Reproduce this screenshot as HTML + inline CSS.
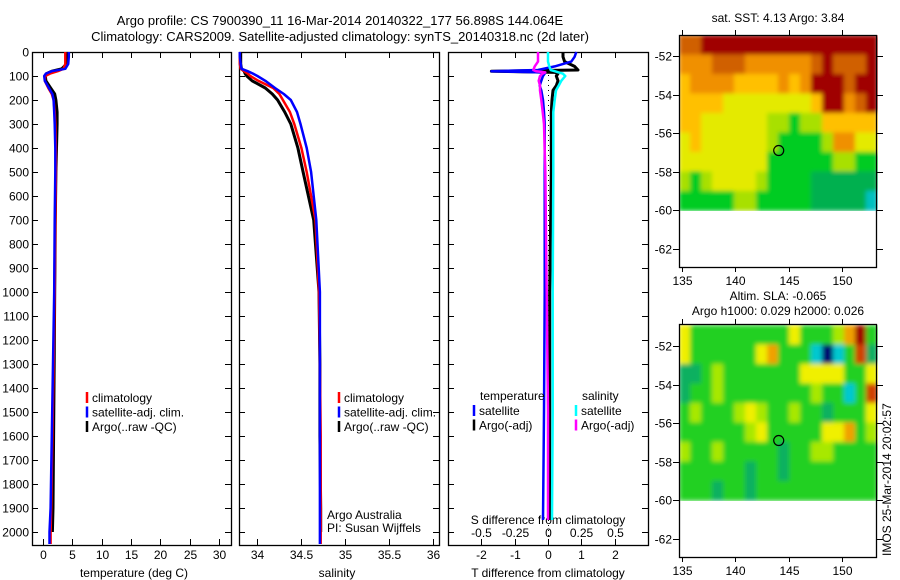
<!DOCTYPE html>
<html><head><meta charset="utf-8"><style>
html,body{margin:0;padding:0;background:#fff;}
svg{display:block;font-family:"Liberation Sans",sans-serif;}
text{font-size:12px;fill:#000;}
</style></head><body>
<svg id="c" width="900" height="580" xmlns="http://www.w3.org/2000/svg">
<defs>
<filter id="blurSla" x="0" y="0" width="1" height="1"><feGaussianBlur stdDeviation="2.5" edgeMode="duplicate"/></filter>
<filter id="blurSst" x="0" y="0" width="1" height="1"><feGaussianBlur stdDeviation="2" edgeMode="duplicate"/></filter>
</defs>
<text x="340" y="25" text-anchor="middle" style="font-size:13px">Argo profile: CS 7900390_11 16-Mar-2014 20140322_177 56.898S 144.064E</text>
<text x="340" y="41" text-anchor="middle" style="font-size:13px">Climatology: CARS2009. Satellite-adjusted climatology: synTS_20140318.nc (2d later)</text>
<text x="778" y="22" text-anchor="middle">sat. SST: 4.13 Argo: 3.84</text>
<text x="778" y="300" text-anchor="middle">Altim. SLA: -0.065</text>
<text x="778" y="315" text-anchor="middle">Argo h1000: 0.029 h2000: 0.026</text>
<text transform="translate(891,556) rotate(-90)">IMOS 25-Mar-2014 20:02:57</text>
</svg>
<script>
// ---- profile data ----
const depths = [0,20,50,70,80,90,100,120,150,175,200,250,300,400,500,700,1000,1300,1600,1900,2000,2050];
const tempArgo = [4.3,4.2,4.0,3.2,1.5,0.6,0.4,0.5,1.3,2.0,2.2,2.4,2.4,2.3,2.2,2.1,2.0,1.9,1.8,1.7,1.6,null];
const tempClim = [3.8,3.8,3.8,3.5,2.5,1.2,0.4,0.3,0.9,1.5,1.8,2.0,2.1,2.2,2.2,2.1,2.0,1.8,1.6,1.4,1.3,1.3];
const tempSat = [4.4,4.4,4.3,3.8,1.5,0.5,0.2,0.3,1.0,1.6,1.8,1.9,2.0,2.1,2.1,2.0,1.9,1.7,1.5,1.3,1.1,1.1];
const salArgo = [33.82,33.82,33.82,33.83,33.86,33.87,33.89,33.95,34.10,34.18,34.24,34.32,34.39,34.47,34.53,34.65,34.71,34.72,34.72,34.73,34.73,null];
const salClim = [33.81,33.81,33.81,33.82,33.86,33.90,33.93,34.02,34.19,34.26,34.30,34.38,34.43,34.51,34.57,34.67,34.71,34.72,34.73,34.73,34.73,34.73];
const salSat = [33.81,33.81,33.82,33.83,33.90,33.96,34.01,34.10,34.21,34.31,34.39,34.46,34.50,34.57,34.62,34.68,34.72,34.72,34.72,34.72,34.72,34.72];
const diffDepths = [0,20,40,60,75,80,85,90,100,120,140,160,200,250,300,500,1000,1500,1950];
const tDiffArgo = [0.45,0.45,0.5,0.8,0.9,-1.7,0.2,0.3,0.25,0.3,0.25,0.15,0.12,0.1,0.1,0.1,0.05,0.05,0.05];
const tDiffSat = [0.85,0.8,0.7,0.2,-0.3,-1.7,-0.2,-0.1,-0.15,-0.2,-0.25,-0.2,-0.15,-0.12,-0.1,-0.1,-0.1,-0.12,-0.15];
const sDiffSat = [0,0,0,0.01,0.02,0.05,0.08,0.11,0.13,0.10,0.08,0.06,0.05,0.04,0.04,0.04,0.035,0.035,0.03];
const sDiffArgo = [-0.075,-0.075,-0.075,-0.1,-0.11,-0.09,-0.02,-0.04,-0.06,-0.07,-0.06,-0.06,-0.05,-0.04,-0.03,-0.02,-0.01,0,0];
const depthTicks = [0,100,200,300,400,500,600,700,800,900,1000,1100,1200,1300,1400,1500,1600,1700,1800,1900,2000];
const tempTicks = [0,5,10,15,20,25,30];
const salTicks = [34,34.5,35,35.5,36];
const tdTicks = [-2,-1,0,1,2];
const sdTicks = [-0.5,-0.25,0,0.25,0.5];
// ---- map data (rows north->south, cols west->east), color class indices ----
const sstGrid = [
[8,8,9,9,9,9,9,9,9,9,9,9,9,9,9,9,9,9],
[7,7,7,8,8,8,7,7,7,7,7,7,8,9,8,8,8,9],
[6,7,7,7,7,6,6,6,6,7,6,7,9,9,9,8,9,9],
[6,6,6,6,5,5,5,5,5,5,5,5,6,9,9,7,8,9],
[6,6,5,5,5,5,5,5,4,4,3,4,4,6,6,6,6,6],
[5,6,5,5,5,5,5,5,4,3,3,3,3,4,7,7,5,5],
[5,5,5,5,5,5,5,5,3,3,3,3,3,3,4,4,3,3],
[4,3,4,5,5,5,5,4,3,3,3,3,2,2,2,2,2,2],
[3,3,3,3,3,4,4,3,3,3,3,3,2,2,2,2,2,1]];
const slaGrid = [
[6,4,4,4,4,4,4,4,4,4,6,4,4,4,5,7,9,4],
[6,4,4,4,4,4,4,6,7,4,4,4,2,0,2,4,8,3],
[3,3,4,5,4,4,4,4,4,4,4,6,6,6,6,4,4,6],
[3,4,4,5,4,4,4,4,4,4,4,4,5,4,4,2,4,8],
[4,5,4,4,4,5,6,5,4,4,5,4,4,3,4,4,4,6],
[4,4,4,4,4,4,5,6,4,4,4,4,4,6,6,7,4,5],
[5,4,4,5,4,4,4,4,4,3,4,4,5,5,4,4,4,4],
[4,4,4,4,4,4,3,4,4,3,4,4,4,4,4,4,4,4],
[4,4,4,3,4,4,3,4,4,4,4,4,4,4,4,4,4,4]];
const sstColors = ['#00c0c0','#00c0c0','#00b050','#00cc20','#a8e000','#e4ea00','#ffc000','#f09000','#d06000','#a00000'];
const slaColors = ['#000070','#0070d0','#00c8d0','#10b060','#20d020','#a8e800','#f0f000','#f0a000','#d04000','#a00000'];
const lonTicks = [135,140,145,150];
const latTicks = [-52,-54,-56,-58,-60,-62];
const argoLon = 144.064, argoLat = -56.898;

const svg = document.getElementById('c');
const NS = 'http://www.w3.org/2000/svg';
function mk(tag, at, parent){const e=document.createElementNS(NS,tag);for(const k in at)e.setAttribute(k,at[k]);(parent||svg).appendChild(e);return e;}
function txt(x,y,s,anchor){const t=mk('text',{x:x,y:y,'text-anchor':anchor||'middle'});t.textContent=s;return t;}

const Y0=52, PY=0.24, YB=545;
const yD = d => Y0 + d*PY;
const xT = v => 43 + v*5.87;
const xS = v => 256.5 + (v-34)*88;
const xTD = v => 548 + v*33.3;
const xSD = v => 548 + v*133.4;

function panel(name,x0,x1,leftLabels){
  const g=mk('g',{});
  
  
  const r=mk('rect',{x:x0+0.5,y:Y0+0.5,width:x1-x0,height:YB-Y0,fill:'none',stroke:'#000','stroke-width':1.3},g);
  
  
  depthTicks.forEach(d=>{
    const y=yD(d)+0.5;
    mk('line',{x1:x0,x2:x0+6,y1:y,y2:y,stroke:'#000'},g);
    mk('line',{x1:x1-6,x2:x1,y1:y,y2:y,stroke:'#000'},g);
    if(leftLabels){const t=txt(x0-3,y+4,String(d),'end');}
  });
  return g;
}
function xticks(ticks,fx,labY,fmt,top,bottom){
  ticks.forEach(v=>{
    const x=Math.round(fx(v))+0.5;
    if(top) mk('line',{x1:x,x2:x,y1:Y0,y2:Y0+6,stroke:'#000'});
    if(bottom) mk('line',{x1:x,x2:x,y1:YB-6,y2:YB,stroke:'#000'});
    const t=txt(x,labY,fmt?fmt(v):String(v));
    
    
  });
}
function line(xs,ds,fx,color,w,name,dash){
  let p='';
  xs.forEach((v,i)=>{if(v===null||v===undefined)return;p+=(p?'L':'M')+fx(v).toFixed(1)+','+yD(ds[i]).toFixed(1);});
  const e=mk('path',{d:p,fill:'none',stroke:color,'stroke-width':w,'stroke-linejoin':'round'});
  if(dash)e.setAttribute('stroke-dasharray',dash);
  
  
}
function legend(x,y,items){
  items.forEach((it,i)=>{
    const yy=y+i*14.5;
    mk('line',{x1:x,x2:x,y1:yy-10,y2:yy+1,stroke:it[1],'stroke-width':2.5});
    const t=txt(x+5,yy,it[0],'start');
    
    
  });
}

// Panel 1 temperature
panel('temperature-panel',32,231,true);
xticks(tempTicks,xT,559,null,true,true);
txt(134,577,'temperature (deg C)');
line(tempArgo,depths,xT,'#000',3,'temp-argo-line');
line(tempClim,depths,xT,'#f00',2.5,'temp-climatology-line');
line(tempSat,depths,xT,'#00f',2.5,'temp-satellite-line');
legend(87,402,[['climatology','#f00'],['satellite-adj. clim.','#00f'],['Argo(..raw -QC)','#000']]);

// Panel 2 salinity
panel('salinity-panel',239,439,false);
xticks(salTicks,xS,559,null,true,true);
txt(337,577,'salinity');
line(salArgo,depths,xS,'#000',3,'sal-argo-line');
line(salClim,depths,xS,'#f00',2.5,'sal-climatology-line');
line(salSat,depths,xS,'#00f',2.5,'sal-satellite-line');
legend(339,402,[['climatology','#f00'],['satellite-adj. clim.','#00f'],['Argo(..raw -QC)','#000']]);
txt(327,519,'Argo Australia','start');
txt(327,532,'PI: Susan Wijffels','start');

// Panel 3 differences
panel('difference-panel',448,648,false);
xticks(tdTicks,xTD,559,null,false,true);
xticks(sdTicks,xSD,537,v=>String(v),true,false);
txt(548,524,'S difference from climatology');
txt(548,577,'T difference from climatology');
mk('line',{x1:548.5,x2:548.5,y1:75,y2:YB,stroke:'#000','stroke-dasharray':'1,4'});
line(tDiffArgo,diffDepths,xTD,'#000',3,'tdiff-argo-line');
line(tDiffSat,diffDepths,xTD,'#00f',2.5,'tdiff-satellite-line');
line(sDiffSat,diffDepths,xSD,'#0ff',2.5,'sdiff-satellite-line');
line(sDiffArgo,diffDepths,xSD,'#f0f',2.5,'sdiff-argo-line');
txt(480,400,'temperature','start');
txt(582,400,'salinity','start');
legend(474,415,[['satellite','#00f'],['Argo(-adj)','#000']]);
legend(576,415,[['satellite','#0ff'],['Argo(-adj)','#f0f']]);

// Maps
const LON0=134.72, LON1=153.28, LATTOP=-50.91, LATDATA=-60;
const mx = lon => 682 + (lon-135)*10.67;
function map(name,top,lat52y,grid,colors,filt){
  const my = lat => lat52y + (-52-lat)*19.3;
  const g=mk('g',{});
  
  
  const nr=grid.length, nc=grid[0].length;
  const dLon=(LON1-LON0)/nc, dLat=(LATTOP-LATDATA)/nr;
  const cg=mk('g',{filter:'url(#'+filt+')'},g);
  grid.forEach((row,r)=>row.forEach((v,c)=>{
    const x0=mx(LON0+c*dLon), x1=mx(LON0+(c+1)*dLon);
    const y0=my(LATTOP-r*dLat), y1=my(LATTOP-(r+1)*dLat);
    const cell=mk('rect',{x:x0.toFixed(1),y:y0.toFixed(1),width:(x1-x0+0.6).toFixed(1),height:(y1-y0+0.6).toFixed(1),fill:colors[v]},cg);
    
    
  }));
  const bottom=my(-62)+18;
  mk('rect',{x:679.5,y:top+0.5,width:197,height:bottom-top,fill:'none',stroke:'#000','stroke-width':1.3},g);
  lonTicks.forEach(l=>{
    const x=Math.round(mx(l))+0.5;
    mk('line',{x1:x,x2:x,y1:top-5,y2:top,stroke:'#000'},g);
    mk('line',{x1:x,x2:x,y1:bottom,y2:bottom+5,stroke:'#000'},g);
    const t=txt(x,bottom+18,String(l));
  });
  latTicks.forEach(l=>{
    const y=Math.round(my(l))+0.5;
    mk('line',{x1:673,x2:679,y1:y,y2:y,stroke:'#000'},g);
    mk('line',{x1:877,x2:883,y1:y,y2:y,stroke:'#000'},g);
    const t=txt(672,y+4,String(l),'end');
  });
  const m=mk('circle',{cx:mx(argoLon),cy:my(argoLat),r:5,fill:'none',stroke:'#000','stroke-width':1.2},g);
  
  
}
map('sst-map',35,56,sstGrid,sstColors,'blurSst');
map('sla-map',324,346,slaGrid,slaColors,'blurSla');
</script>
</body></html>
